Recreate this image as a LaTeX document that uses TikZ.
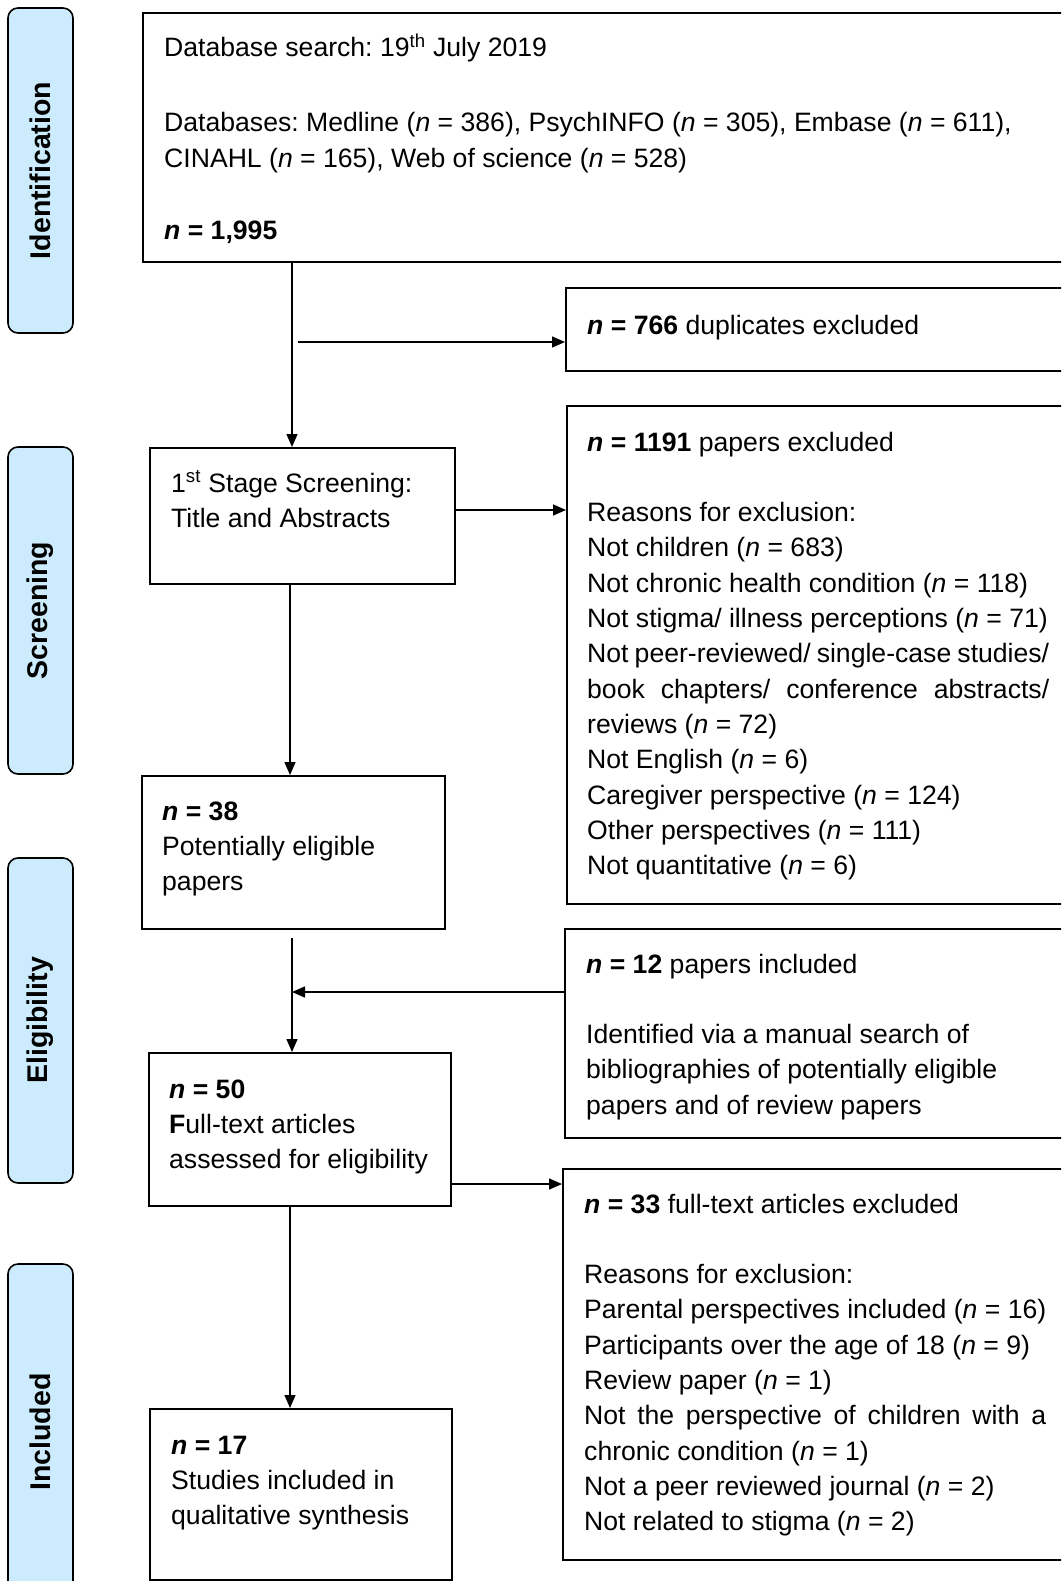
\documentclass[tikz,border=0pt]{standalone}
\usepackage{fontspec}
\setmainfont{Liberation Sans}
\usetikzlibrary{arrows.meta}
\definecolor{labblue}{RGB}{204,235,253}
\frenchspacing
\begin{document}
\begin{tikzpicture}[x=1pt,y=-1pt,
  box/.style={draw, line width=1.8pt, inner sep=0pt, anchor=north west},
  lab/.style={draw, line width=1.6pt, fill=labblue, rounded corners=10pt, inner sep=0pt, rotate=90,
              font=\fontsize{28.5}{34}\selectfont\bfseries},
  txt/.style={anchor=base west, inner sep=0pt, font=\fontsize{26.6}{35.3}\selectfont\frenchspacing},
  arr/.style={line width=1.5pt, -{Triangle[length=13pt,width=11pt]}},
  ln/.style={line width=1.5pt}]
\useasboundingbox (0,0) rectangle (1061,1581);
\clip (0,0) rectangle (1061,1581);

% stage labels
\node[lab, minimum width=325pt, minimum height=65pt] (L1) at (40.5,170.5) {Identification};
\node[lab, minimum width=327pt, minimum height=65pt] (L2) at (40.5,610.5) {Screening};
\node[lab, minimum width=325pt, minimum height=65pt] (L3) at (40.5,1020.5) {Eligibility};
\node[lab, minimum width=336pt, minimum height=65pt] (L4) at (40.5,1432) {Included};

% boxes
\node[box, minimum width=933pt, minimum height=249pt] (top) at (142,12) {};
\node[box, minimum width=510pt, minimum height=83pt] (dup) at (565,287) {};
\node[box, minimum width=305pt, minimum height=136pt] (s1) at (149,447) {};
\node[box, minimum width=509pt, minimum height=498pt] (ex1) at (566,405) {};
\node[box, minimum width=303pt, minimum height=153pt] (e38) at (141,775) {};
\node[box, minimum width=511pt, minimum height=209pt] (p12) at (564,928) {};
\node[box, minimum width=302pt, minimum height=153pt] (e50) at (148,1052) {};
\node[box, minimum width=513pt, minimum height=391pt] (ex33) at (562,1168) {};
\node[box, minimum width=302pt, minimum height=171pt] (inc) at (149,1408) {};

% texts
\node[txt] (t1) at (164,57) {Database search: 19\textsuperscript{th} July 2019};
\node[txt] (t2) at (164,132) {\begin{tabular}[t]{@{}l@{}}Databases: Medline (\textit{n} = 386), PsychINFO (\textit{n} = 305), Embase (\textit{n} = 611),\\
CINAHL (\textit{n} = 165), Web of science (\textit{n} = 528)\end{tabular}};
\node[txt] (t3) at (164,239) {\textbf{\textit{n} = 1,995}};

\node[txt] (t4) at (587,334) {\textbf{\textit{n} = 766} duplicates excluded};

\node[txt] (t5) at (587,451) {\begin{tabular}[t]{@{}l@{}}\textbf{\textit{n} = 1191} papers excluded\\
\\
Reasons for exclusion:\\
Not children (\textit{n} = 683)\\
Not chronic health condition (\textit{n} = 118)\\
Not stigma/ illness perceptions (\textit{n} = 71)\\
\makebox[462pt][s]{Not peer-reviewed/ single-case studies/}\\
\makebox[462pt][s]{book chapters/ conference abstracts/}\\
reviews (\textit{n} = 72)\\
Not English (\textit{n} = 6)\\
Caregiver perspective (\textit{n} = 124)\\
Other perspectives (\textit{n} = 111)\\
Not quantitative (\textit{n} = 6)\end{tabular}};

\node[txt] (t6) at (171,492) {\begin{tabular}[t]{@{}l@{}}1\textsuperscript{st} Stage Screening:\\ Title and Abstracts\end{tabular}};

\node[txt] (t7) at (162,820) {\begin{tabular}[t]{@{}l@{}}\textbf{\textit{n} = 38}\\ Potentially eligible\\ papers\end{tabular}};

\node[txt] (t8) at (586,973) {\begin{tabular}[t]{@{}l@{}}\textbf{\textit{n} = 12} papers included\\
\\
Identified via a manual search of\\
bibliographies of potentially eligible\\
papers and of review papers\end{tabular}};

\node[txt] (t9) at (169,1098) {\begin{tabular}[t]{@{}l@{}}\textbf{\textit{n} = 50}\\ \textbf{F}ull-text articles\\ assessed for eligibility\end{tabular}};

\node[txt] (t10) at (584,1213) {\begin{tabular}[t]{@{}l@{}}\textbf{\textit{n} = 33} full-text articles excluded\\
\\
Reasons for exclusion:\\
Parental perspectives included (\textit{n} = 16)\\
Participants over the age of 18 (\textit{n} = 9)\\
Review paper (\textit{n} = 1)\\
\makebox[462pt][s]{Not the perspective of children with a}\\
chronic condition (\textit{n} = 1)\\
Not a peer reviewed journal (\textit{n} = 2)\\
Not related to stigma (\textit{n} = 2)\end{tabular}};

\node[txt] (t11) at (171,1454) {\begin{tabular}[t]{@{}l@{}}\textbf{\textit{n} = 17}\\ Studies included in\\ qualitative synthesis\end{tabular}};

% connectors
\coordinate (c1) at (292,0);
\coordinate (c2) at (290,0);
\coordinate (b1) at (298,342);
\coordinate (r1) at (0,510);
\coordinate (g1) at (292,938);
\coordinate (r2) at (0,992);
\coordinate (r3) at (0,1184);

\draw[arr] (top.south -| c1) -- (s1.north -| c1);
\draw[arr] (b1) -- (b1 -| dup.west);
\draw[arr] (s1.east |- r1) -- (ex1.west |- r1);
\draw[arr] (s1.south -| c2) -- (e38.north -| c2);
\draw[arr] (g1) -- (e50.north -| g1);
\draw[arr] (p12.west |- r2) -- (g1 |- r2);
\draw[arr] (e50.east |- r3) -- (ex33.west |- r3);
\draw[arr] (e50.south -| c2) -- (inc.north -| c2);
\end{tikzpicture}
\end{document}
